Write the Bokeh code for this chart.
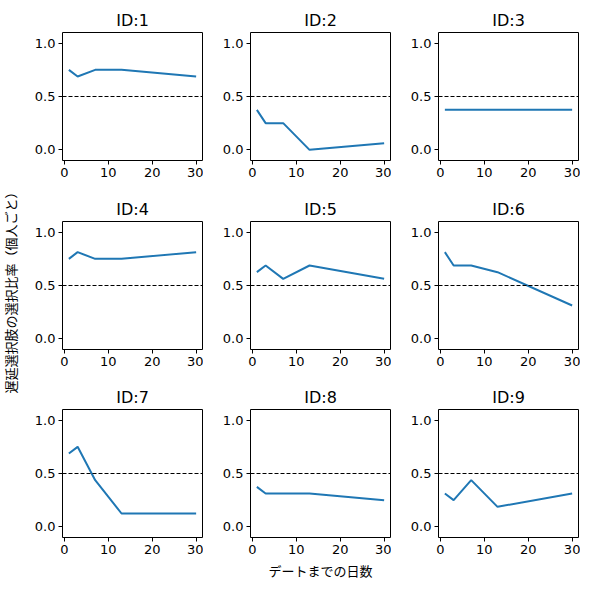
import math
from bokeh.plotting import figure
from bokeh.layouts import gridplot, row
from bokeh.models import Range1d, FixedTicker, Span, PrintfTickFormatter, Label
from bokeh.embed import file_html
from bokeh.resources import INLINE

# ---- data ----
DAYS = [1, 3, 7, 13, 30]
PANEL_IDS = [1, 2, 3, 4, 5, 6, 7, 8, 9]
SERIES_1 = [0.75, 0.6875, 0.75, 0.75, 0.6875]
SERIES_2 = [0.375, 0.25, 0.25, 0.0, 0.0625]
SERIES_3 = [0.375, 0.375, 0.375, 0.375, 0.375]
SERIES_4 = [0.75, 0.8125, 0.75, 0.75, 0.8125]
SERIES_5 = [0.625, 0.6875, 0.5625, 0.6875, 0.5625]
SERIES_6 = [0.8125, 0.6875, 0.6875, 0.625, 0.3125]
SERIES_7 = [0.6875, 0.75, 0.4375, 0.125, 0.125]
SERIES_8 = [0.375, 0.3125, 0.3125, 0.3125, 0.25]
SERIES_9 = [0.3125, 0.25, 0.4375, 0.1875, 0.3125]
ALL_SERIES = [SERIES_1, SERIES_2, SERIES_3, SERIES_4, SERIES_5,
              SERIES_6, SERIES_7, SERIES_8, SERIES_9]
X_TICKS = [0, 10, 20, 30]
Y_TICKS = [0.0, 0.5, 1.0]
Y_LIMITS = (-0.1, 1.1)
THRESHOLD = 0.5
X_LABEL = "デートまでの日数"
Y_LABEL = "遅延選択肢の選択比率（個人ごと）"

# ---- layout / style ----
LINE_COLOR = "#1f77b4"
NUM_FONT = "DejaVu Sans"
JP_FONT = "Noto Sans CJK JP"
span_x = max(DAYS) - min(DAYS)
X_RANGE = (min(DAYS) - 0.05 * span_x, max(DAYS) + 0.05 * span_x)

FRAME_W, FRAME_H = 140, 128
LABEL_W = 20
BORDER_LEFT = [42, 47, 47]
BORDER_RIGHT = [1, 1, 2]
BORDER_TOP = [32, 28, 27]
BORDER_BOTTOM = [33, 33, 44]
GRID_H = sum(BORDER_TOP) + sum(BORDER_BOTTOM) + 3 * FRAME_H

figs = []
for i, (pid, vals) in enumerate(zip(PANEL_IDS, ALL_SERIES)):
    r, c = divmod(i, 3)
    p = figure(frame_width=FRAME_W, frame_height=FRAME_H,
               x_range=Range1d(*X_RANGE), y_range=Range1d(*Y_LIMITS),
               output_backend="svg", toolbar_location=None,
               title=f"ID:{pid}",
               min_border_left=BORDER_LEFT[c], min_border_right=BORDER_RIGHT[c],
               min_border_top=BORDER_TOP[r], min_border_bottom=BORDER_BOTTOM[r],
               background_fill_color="white", border_fill_color="white")
    p.line(DAYS, vals, line_color=LINE_COLOR, line_width=2)
    p.add_layout(Span(location=THRESHOLD, dimension="width", line_color="black",
                      line_dash="4 2", line_width=1))
    p.xaxis.ticker = FixedTicker(ticks=X_TICKS)
    p.yaxis.ticker = FixedTicker(ticks=Y_TICKS)
    p.yaxis.formatter = PrintfTickFormatter(format="%.1f")
    p.grid.grid_line_color = None
    p.outline_line_color = "black"
    p.outline_line_alpha = 1.0
    p.outline_line_width = 1
    for ax in (p.xaxis[0], p.yaxis[0]):
        ax.axis_line_color = None
        ax.major_tick_out = 4
        ax.major_tick_in = 0
        ax.major_tick_line_color = "black"
        ax.minor_tick_line_color = None
        ax.major_label_standoff = 3
        ax.major_label_text_font = NUM_FONT
        ax.major_label_text_font_size = "13px"
        ax.major_label_text_color = "black"
        ax.axis_label_text_font = JP_FONT
        ax.axis_label_text_font_size = "13px"
        ax.axis_label_text_font_style = "normal"
        ax.axis_label_text_color = "black"
    p.title.align = "center"
    p.title.text_font = NUM_FONT
    p.title.text_font_size = "16px"
    p.title.text_font_style = "normal"
    p.title.text_color = "black"
    p.title.standoff = 5
    if pid == 8:
        p.xaxis.axis_label = X_LABEL
        p.xaxis.axis_label_standoff = 4
    figs.append(p)

# shared y label in a narrow blank figure on the left
lab = figure(frame_width=LABEL_W, frame_height=GRID_H,
             x_range=Range1d(0, LABEL_W), y_range=Range1d(0, GRID_H),
             output_backend="svg", toolbar_location=None,
             min_border_left=0, min_border_right=0, min_border_top=0, min_border_bottom=0,
             background_fill_color="white", border_fill_color="white")
lab.axis.visible = False
lab.grid.grid_line_color = None
lab.outline_line_color = None
lab.add_layout(Label(x=LABEL_W / 2, y=GRID_H - 289, text=Y_LABEL, angle=math.pi / 2,
                     text_align="center", text_baseline="middle",
                     text_font=JP_FONT, text_font_size="13px", text_color="black"))

grid = gridplot([figs[0:3], figs[3:6], figs[6:9]], toolbar_location=None)
page = row(lab, grid)
open("out.html", "w").write(file_html(page, INLINE))
